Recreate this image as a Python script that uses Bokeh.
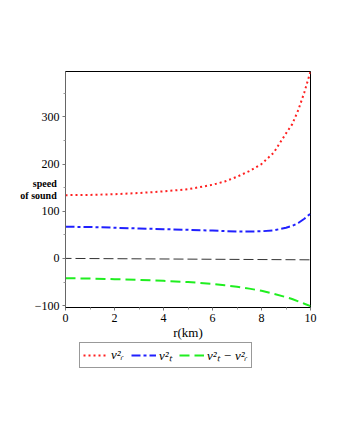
from bokeh.plotting import figure
from bokeh.models import Range1d, Legend, LegendItem, FixedTicker
from bokeh.layouts import column
from bokeh.embed import file_html
from bokeh.resources import INLINE

# data
r_km = [0, 1, 2, 3, 4, 5, 6, 6.5, 7, 7.5, 8, 8.5, 9, 9.25, 9.5, 9.75, 10]
vr2 = [134, 134.5, 136, 138.5, 142, 146.5, 156, 163, 173, 185, 200, 224, 265, 284, 314, 352, 396]
vt2 = [67, 66.5, 65, 63.5, 62, 60.5, 59, 58, 57, 57, 57.5, 59.5, 65, 69, 75, 84, 95]
diff = [-42, -42.5, -44, -45.5, -47.5, -50, -54, -57, -60, -64, -68.5, -75, -82, -86, -91, -96, -101]
zero_r = [0, 10]
zero_v = [0, -3]

x_ticks = [0, 2, 4, 6, 8, 10]
y_ticks = [-100, 0, 100, 200, 300]
labels = ["v²ᵣ", "v²ₜ", "v²ₜ − v²ᵣ"]
x_label = "r(km)"
y_label = "speed\nof sound"

SERIF = "Liberation Serif"
RED, BLUE, GREEN = "#ff2020", "#2020ff", "#20ee20"
STYLES = [(RED, "2 3"), (BLUE, "9 3 3 3"), (GREEN, "10 5")]
SERIES = [vr2, vt2, diff]

p = figure(width=332, height=342, output_backend="svg", toolbar_location=None,
           x_range=Range1d(0, 10), y_range=Range1d(-104, 396),
           min_border_left=65, min_border_right=22, min_border_top=71, min_border_bottom=35)
p.grid.visible = False
p.outline_line_color = "black"
p.outline_line_width = 1
p.background_fill_color = "white"
p.border_fill_color = "white"

p.xaxis.ticker = FixedTicker(ticks=x_ticks, minor_ticks=[1, 3, 5, 7, 9])
p.yaxis.ticker = FixedTicker(ticks=y_ticks, minor_ticks=[-50, 50, 150, 250, 350])
for ax in (p.xaxis[0], p.yaxis[0]):
    ax.major_label_text_font = SERIF
    ax.major_label_text_font_size = "12px"
    ax.major_label_text_color = "black"
    ax.major_tick_in = 0
    ax.major_tick_out = 3
    ax.minor_tick_in = 0
    ax.minor_tick_out = 2
    ax.major_tick_line_color = "#777777"
    ax.minor_tick_line_color = "#999999"
    ax.major_label_standoff = 3
p.xaxis.axis_line_color = "black"
p.yaxis.axis_line_color = "#666666"

p.xaxis.axis_label = x_label
p.xaxis.axis_label_text_font = SERIF
p.xaxis.axis_label_text_font_style = "normal"
p.xaxis.axis_label_text_font_size = "13px"
p.xaxis.axis_label_text_color = "black"
p.xaxis.axis_label_standoff = 0

p.yaxis.axis_label = y_label
p.yaxis.axis_label_text_font = SERIF
p.yaxis.axis_label_text_font_style = "bold"
p.yaxis.axis_label_text_font_size = "10px"
p.yaxis.axis_label_text_line_height = 1.1
p.yaxis.axis_label_text_color = "black"
p.yaxis.axis_label_text_align = "left"
p.yaxis.axis_label_orientation = "horizontal"
p.yaxis.axis_label_standoff = -25

p.line(zero_r, zero_v, line_color="#333333", line_width=1, line_dash="10 4", line_dash_offset=4)
for ys, (col, dash) in zip(SERIES, STYLES):
    p.line(r_km, ys, line_color=col, line_width=2, line_dash=dash)

# legend strip below the plot (its frame is aligned with the plot frame);
# the same series are drawn here but lie outside this strip's y range
q = figure(width=332, height=30, output_backend="svg", toolbar_location=None,
           x_range=Range1d(0, 10), y_range=Range1d(1000, 1001),
           x_axis_location=None, y_axis_location=None,
           min_border_left=65, min_border_right=22, min_border_top=0, min_border_bottom=0)
q.grid.visible = False
q.outline_line_color = None
q.background_fill_color = "white"
q.border_fill_color = "white"
items = []
for lab, ys, (col, dash) in zip(labels, SERIES, STYLES):
    rr = q.line(r_km, ys, line_color=col, line_width=2, line_dash=dash)
    items.append(LegendItem(label=lab, renderers=[rr]))

legend = Legend(items=items, orientation="horizontal", location=(14, 4),
                label_text_font=SERIF, label_text_font_style="italic",
                label_text_font_size="13px", label_text_color="black",
                glyph_width=25, glyph_height=16, label_height=16,
                label_standoff=3, spacing=0, padding=3, margin=0,
                border_line_color="#333333", border_line_width=1,
                background_fill_color="white", background_fill_alpha=1)
q.add_layout(legend, "center")

layout = column(p, q, spacing=0)
open("out.html", "w").write(file_html(layout, INLINE))
